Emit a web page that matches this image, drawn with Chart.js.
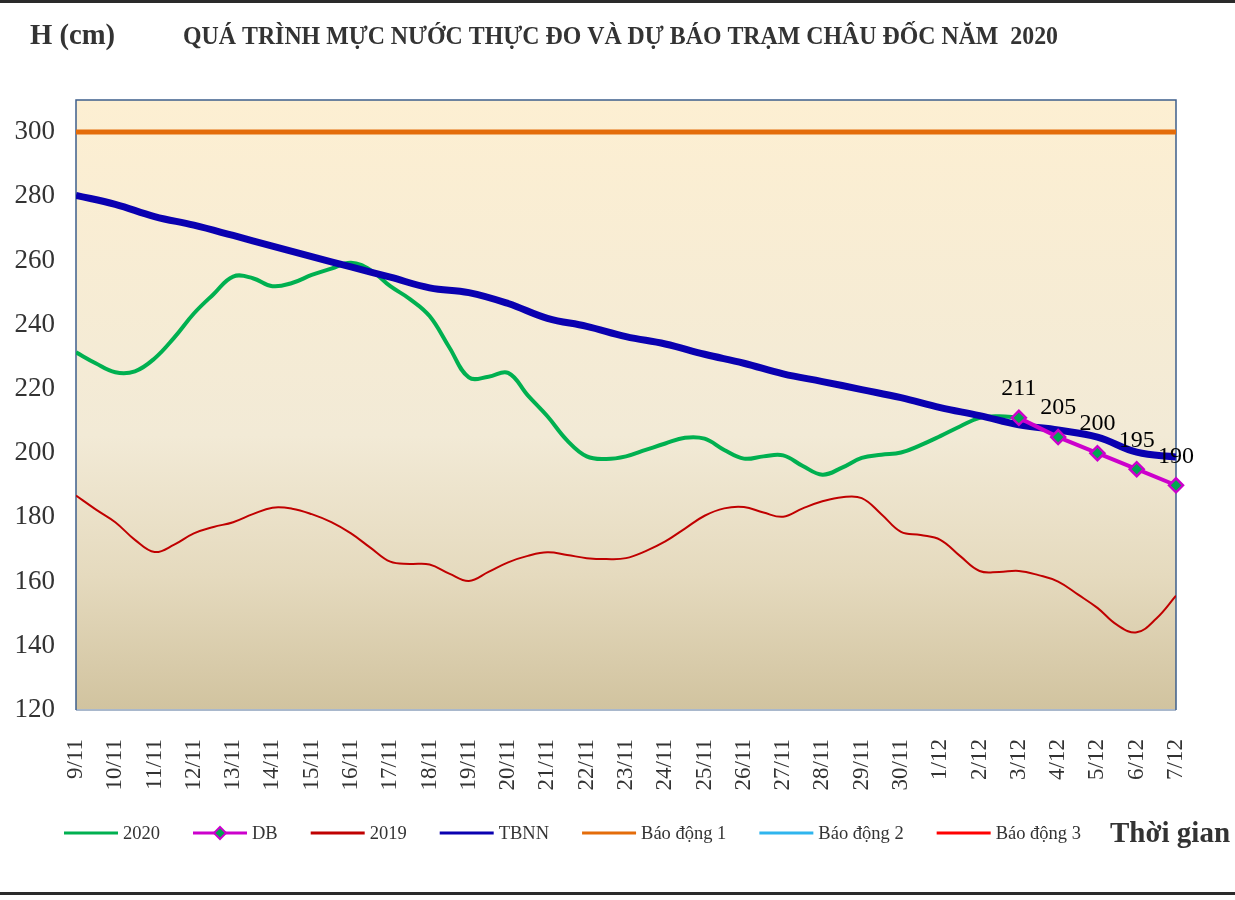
<!DOCTYPE html>
<html><head><meta charset="utf-8">
<script src="https://cdn.jsdelivr.net/npm/chart.js@4/dist/chart.umd.min.js"></script>
<style>html,body{margin:0;padding:0;background:#fff}canvas{display:block}</style>
</head><body>
<canvas id="c" width="1235" height="900"></canvas>
<script>
const categories = ['9/11','10/11','11/11','12/11','13/11','14/11','15/11','16/11','17/11','18/11','19/11','20/11','21/11','22/11','23/11','24/11','25/11','26/11','27/11','28/11','29/11','30/11','1/12','2/12','3/12','4/12','5/12','6/12','7/12'];
// 2020 observed, every half day from 9/11 to 3/12
const obs2020 = [231.4,228,225.2,225.5,229.5,236,243.5,249.5,255,254.5,252,253,255.5,257.5,259.3,257,252,248,242.7,233,223.6,223.8,225,218,211.5,204,199,198.2,199,201,203,204.8,204.5,201,198.3,199,199.3,196,193.3,195.5,198.5,199.5,200.2,202.5,205.3,208.3,211,211.5,211];
// forecast (DB) from 3/12 to 7/12
const forecastDB = [211,205,200,195,190];
const forecastStart = 24;
// 2019, every half day from 9/11 to 7/12
const obs2019 = [186.8,182.5,178.5,173,169.2,171.5,175,177,178.5,181,183,182.7,181,178.5,175,170.5,166.2,165.5,165.3,162.5,160.2,163,166,168,169.1,168.3,167.3,167,167.3,169.5,172.5,176.5,180.5,182.8,183.2,181.5,180.2,182.8,185,186.3,186,181,175.5,174.5,173,168,163.3,163,163.3,162,160,156,151.8,146.5,144.2,148.5,155.6];
// TBNN (multi-year average), daily
const tbnn = [280.3,277.5,273.7,271,267.8,264.5,261.2,258,254.8,251.5,250,246.6,242,239.5,236.3,234,230.8,228,224.7,222.3,219.8,217.3,214.2,211.7,208.8,207.2,205,200.3,198.8];
// alarm levels
const alarm1 = 300, alarm2 = 350, alarm3 = 400;
const yTicks = [120,140,160,180,200,220,240,260,280,300];

const SERIF = "'Liberation Serif','Times New Roman',serif";
const halfDay = arr => arr.map((v,i)=>({x:i/2,y:v}));
const daily = (arr,start) => arr.map((v,i)=>({x:start+i,y:v}));
const flat = v => categories.map((_,i)=>({x:i,y:v}));

const datasets = [
  {label:'2020', data:halfDay(obs2020), borderColor:'#00B050', borderWidth:4, tension:0.4, pointRadius:0, order:2},
  {label:'DB', data:daily(forecastDB,forecastStart), borderColor:'#CC00CC', borderWidth:4, tension:0, pointStyle:'rectRot', pointRadius:7, pointBackgroundColor:'#00A651', pointBorderColor:'#CC00CC', pointBorderWidth:2.5, order:0, clip:false},
  {label:'2019', data:halfDay(obs2019), borderColor:'#C00000', borderWidth:2, tension:0.4, pointRadius:0, order:3},
  {label:'TBNN', data:daily(tbnn,0), borderColor:'#0A00B0', borderWidth:7, tension:0.4, pointRadius:0, order:1},
  {label:'Báo động 1', data:flat(alarm1), borderColor:'#E46C0A', borderWidth:5, pointRadius:0, order:4},
  {label:'Báo động 2', data:flat(alarm2), borderColor:'#2FB5EE', borderWidth:3, pointRadius:0, order:5},
  {label:'Báo động 3', data:flat(alarm3), borderColor:'#FF0000', borderWidth:3, pointRadius:0, order:6}
];

const deco = {
  id:'deco',
  beforeDraw(chart){
    const {ctx, chartArea:a} = chart;
    ctx.save();
    ctx.fillStyle='#fff'; ctx.fillRect(0,0,chart.width,chart.height);
    const g = ctx.createLinearGradient(0,a.top,0,a.bottom);
    g.addColorStop(0,'#FDEFD2'); g.addColorStop(0.55,'#F2EAD6'); g.addColorStop(0.78,'#E5DABE'); g.addColorStop(1,'#D1C39F');
    ctx.fillStyle=g; ctx.fillRect(a.left,a.top,a.right-a.left,a.bottom-a.top);
    ctx.restore();
  },
  beforeDatasetsDraw(chart){
    const {ctx, chartArea:a} = chart;
    ctx.save();
    ctx.strokeStyle='#A9B8CC'; ctx.lineWidth=2;
    ctx.beginPath(); ctx.moveTo(a.left,a.bottom); ctx.lineTo(a.right,a.bottom); ctx.stroke();
    ctx.strokeStyle='#3E5F8C'; ctx.lineWidth=1.5;
    ctx.beginPath(); ctx.moveTo(a.left,a.bottom); ctx.lineTo(a.left,a.top); ctx.lineTo(a.right,a.top); ctx.lineTo(a.right,a.bottom); ctx.stroke();
    ctx.restore();
  },
  afterDatasetsDraw(chart){
    const {ctx} = chart;
    const meta = chart.getDatasetMeta(1);
    ctx.save();
    ctx.font = '24px '+SERIF; ctx.fillStyle='#000'; ctx.textAlign='center'; ctx.textBaseline='middle';
    meta.data.forEach((pt,i)=>{ ctx.fillText(String(forecastDB[i]), pt.x, pt.y-29); });
    ctx.restore();
  },
  afterDraw(chart){
    const {ctx} = chart;
    ctx.save();
    // rules
    ctx.fillStyle='#2a2a2a';
    ctx.fillRect(0,0,chart.width,3);
    ctx.fillRect(0,892,chart.width,3);
    // titles
    ctx.fillStyle='#333'; ctx.textBaseline='middle'; ctx.textAlign='left';
    ctx.font='bold 30px '+SERIF;
    const hw=ctx.measureText('H (cm)').width;
    ctx.save(); ctx.translate(30,36); ctx.scale(85/hw,1); ctx.fillText('H (cm)',0,0); ctx.restore();
    const title='QUÁ TRÌNH MỰC NƯỚC THỰC ĐO VÀ DỰ BÁO TRẠM CHÂU ĐỐC NĂM  2020';
    ctx.font='bold 25px '+SERIF;
    const w=ctx.measureText(title).width;
    ctx.save(); ctx.translate(183,38); ctx.scale(875/w,1); ctx.fillText(title,0,0); ctx.restore();
    // legend
    let x=64; const ly=833;
    ctx.font='18.5px '+SERIF;
    chart.data.datasets.forEach(ds=>{
      ctx.strokeStyle=ds.borderColor; ctx.lineWidth=3;
      ctx.beginPath(); ctx.moveTo(x,ly); ctx.lineTo(x+54,ly); ctx.stroke();
      if(ds.pointStyle==='rectRot'){
        ctx.beginPath(); ctx.moveTo(x+27,ly-6); ctx.lineTo(x+33,ly); ctx.lineTo(x+27,ly+6); ctx.lineTo(x+21,ly); ctx.closePath();
        ctx.fillStyle=ds.pointBackgroundColor; ctx.fill(); ctx.strokeStyle=ds.pointBorderColor; ctx.lineWidth=2; ctx.stroke();
      }
      ctx.fillStyle='#333';
      ctx.fillText(ds.label,x+59,ly+1);
      x += 59 + ctx.measureText(ds.label).width + 33;
    });
    ctx.font='bold 29px '+SERIF;
    ctx.fillStyle='#333';
    ctx.fillText('Thời gian',1110,835);
    ctx.restore();
  }
};

new Chart(document.getElementById('c'), {
  type:'line',
  data:{datasets},
  options:{
    responsive:false, animation:false, events:[],
    layout:{padding:{top:100,right:59,left:0,bottom:0}},
    plugins:{legend:{display:false}, tooltip:{enabled:false}, title:{display:false}},
    scales:{
      x:{type:'linear', min:0, max:categories.length-1,
        grid:{display:false}, border:{display:false},
        afterBuildTicks:s=>{ s.ticks = categories.map((_,i)=>({value:i})); },
        afterFit:s=>{ s.height=190; },
        ticks:{autoSkip:false, minRotation:90, maxRotation:90, padding:21, color:'#333',
          font:{family:SERIF,size:23}, callback:v=>categories[v]}
      },
      y:{min:120, max:310,
        grid:{display:false}, border:{display:false},
        afterBuildTicks:s=>{ s.ticks = yTicks.map(v=>({value:v})); },
        afterFit:s=>{ s.width=76; },
        ticks:{padding:13, color:'#333', font:{family:SERIF,size:27}}
      }
    }
  },
  plugins:[deco]
});
</script>
</body></html>
